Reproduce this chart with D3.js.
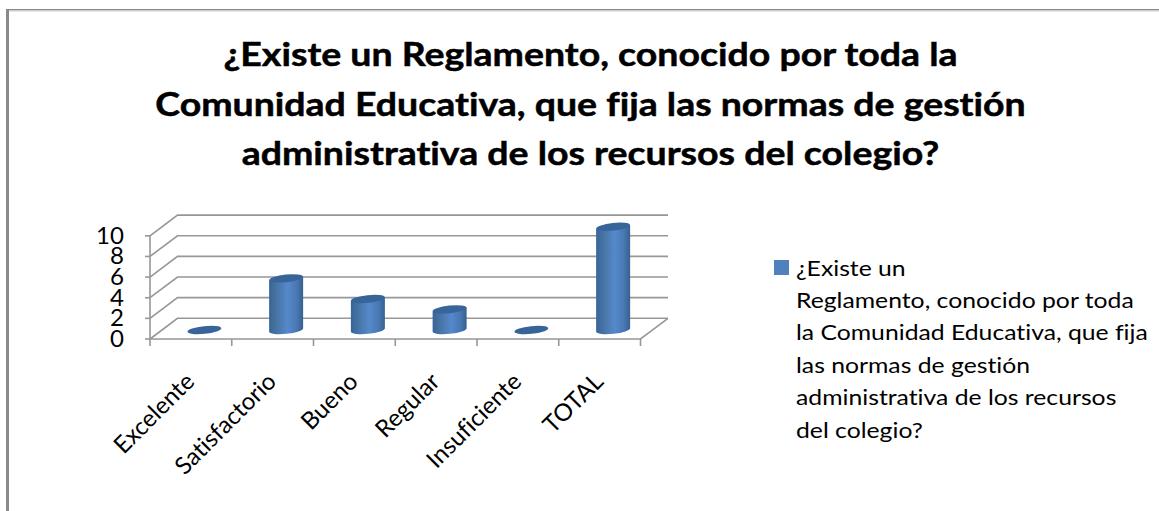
<!DOCTYPE html>
<html><head><meta charset="utf-8">
<script src="https://cdnjs.cloudflare.com/ajax/libs/d3/7.8.5/d3.min.js"></script>
<style>html,body{margin:0;padding:0;background:#fff;overflow:hidden}svg{display:block}text{font-family:Lato,"Open Sans",sans-serif;fill:#000;font-variant-ligatures:none}</style>
</head><body><svg id="c" width="1159" height="511"></svg>
<script>
const categories = ["Excelente","Satisfactorio","Bueno","Regular","Insuficiente","TOTAL"];
const values = [0,5,3,2,0,10];
const yTicks = [0,2,4,6,8,10];
const titleLines = [
 "¿Existe un Reglamento, conocido por toda la",
 "Comunidad Educativa, que fija las normas de gestión",
 "administrativa de los recursos del colegio?"];
const legendLines = ["¿Existe un","Reglamento, conocido por toda","la Comunidad Educativa, que fija","las normas de gestión","administrativa de los recursos","del colegio?"];

const svg = d3.select("#c");
const frameColor = "#8a8a8a", gridColor = "#979797";

// chart frame
svg.append("rect").attr("x",6).attr("y",9).attr("width",3).attr("height",502).attr("fill",frameColor);
svg.append("rect").attr("x",6).attr("y",9).attr("width",1153).attr("height",1.5).attr("fill",frameColor);
svg.append("rect").attr("x",9).attr("y",10.5).attr("width",1150).attr("height",1).attr("fill","#d4d4d4");

// title
const titleY = [66,115.5,165];
svg.append("g").selectAll("text").data(titleLines).join("text")
  .attr("transform",(d,i)=>`translate(590.5,${titleY[i]}) scale(1.136,1)`).attr("text-anchor","middle")
  .attr("font-size",33).attr("font-weight",700).attr("stroke","#000").attr("stroke-width",0.5).text(d=>d);

// scales
const x = d3.scaleBand().domain(categories).range([150,640.5]);
const y = d3.scaleLinear().domain([0,10]).range([339,235.8]);
const depthX = 27.5, depthY = -20.7;      // wall depth offset
const barDX = 13.5, barDY = -9;           // bar base offset from the front axis

const grid = svg.append("g").attr("fill","none").attr("stroke",gridColor).attr("stroke-width",1.6);
yTicks.forEach(t=>{
  grid.append("path").attr("d",d3.line()([[x.range()[0],y(t)],[x.range()[0]+depthX,y(t)+depthY],[x.range()[1]+depthX,y(t)+depthY]]));
  grid.append("path").attr("d",d3.line()([[x.range()[0]-5,y(t)],[x.range()[0],y(t)]]));
});
// floor + axes
grid.append("path").attr("d",d3.line()([[x.range()[0],y(0)],[x.range()[1],y(0)],[x.range()[1]+depthX,y(0)+depthY]]));
grid.append("path").attr("d",d3.line()([[x.range()[0],y(10)],[x.range()[0],y(0)+7]]));
categories.forEach(c=>{
  const xx = x(c)+x.bandwidth();
  grid.append("path").attr("d",d3.line()([[xx,y(0)],[xx,y(0)+7]]));
});

// y labels
svg.append("g").selectAll("text").data(yTicks).join("text")
  .attr("transform",d=>`translate(124,${y(d)+8}) scale(1.07,1)`).attr("text-anchor","end").attr("font-size",22.5).text(d=>d);

// category labels
svg.append("g").selectAll("text").data(categories).join("text")
  .attr("text-anchor","end").attr("font-size",24)
  .attr("transform",d=>`translate(${x(d)+x.bandwidth()/2+5},${y(0)+44}) rotate(-45)`).text(d=>d);

// cylinders
const defs = svg.append("defs");
const g = defs.append("linearGradient").attr("id","cyl");
[[0,"#38649a"],[0.18,"#44729f"],[0.55,"#5589cb"],[0.8,"#4a79b4"],[1,"#366190"]]
 .forEach(s=>g.append("stop").attr("offset",s[0]).attr("stop-color",s[1]));

const rx = 17, ry = 3.8, tilt = -6;
const bars = svg.append("g").selectAll("g").data(categories.map((c,i)=>({c,v:values[i]}))).join("g")
  .attr("transform",d=>`translate(${x(d.c)+x.bandwidth()/2+barDX},${barDY})`);
bars.filter(d=>d.v>0).append("path").attr("fill","url(#cyl)")
  .attr("d",d=>{
    const t=y(d.v), b=y(0);
    return `M${-rx},${t+1.8}L${-rx},${b+1.8}A${rx},${ry} ${tilt} 0 0 ${rx},${b-1.8}L${rx},${t-1.8}Z`;
  });
bars.append("ellipse").attr("rx",rx).attr("ry",ry).attr("cy",d=>y(d.v))
  .attr("transform",d=>`rotate(${tilt} 0 ${y(d.v)})`).attr("fill","#37659a");

// legend
svg.append("rect").attr("x",774).attr("y",260).attr("width",15).attr("height",15).attr("fill","#4f81bd");
svg.append("g").selectAll("text").data(legendLines).join("text")
  .attr("transform",(d,i)=>`translate(796,${275.5+i*32.4}) scale(1.125,1)`).attr("font-size",22).text(d=>d);
</script></body></html>
